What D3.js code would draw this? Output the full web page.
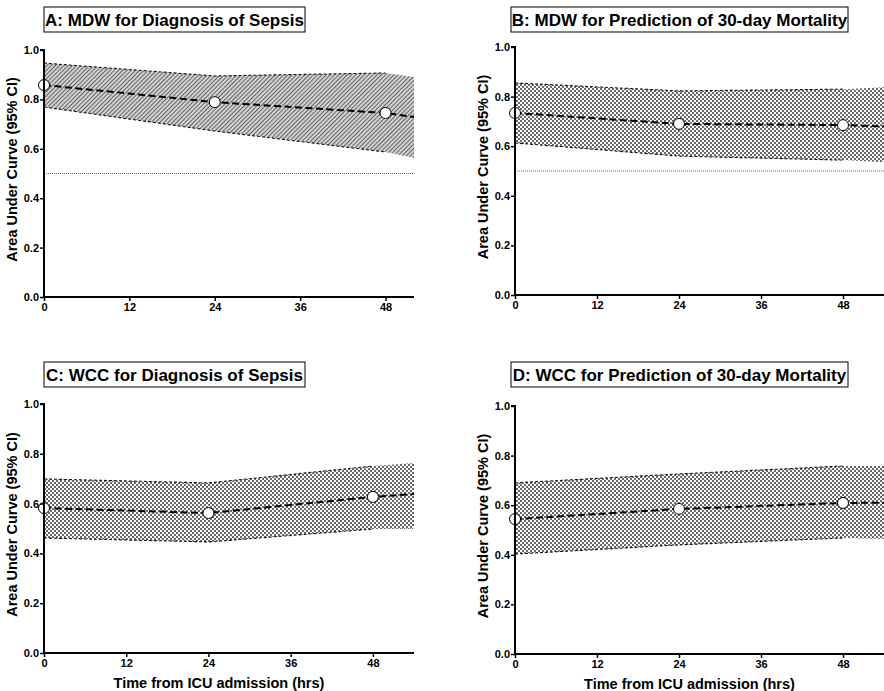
<!DOCTYPE html>
<html>
<head>
<meta charset="utf-8">
<script src="https://cdn.jsdelivr.net/npm/d3@7"></script>
<style>
  body { margin: 0; background: #fff; }
  text { font-family: "Liberation Sans", Arial, sans-serif; font-weight: bold; }
</style>
</head>
<body>
<svg id="chart" width="884" height="691"></svg>
<script>
// hours after ICU admission (72h exists in the data but the axis stops before it)
var times = [0, 24, 48, 72]
var xTicks = [0, 12, 24, 36, 48]
var yTicks = [0, 0.2, 0.4, 0.6, 0.8, 1.0]

var titles = ["A: MDW for Diagnosis of Sepsis", "B: MDW for Prediction of 30-day Mortality",
              "C: WCC for Diagnosis of Sepsis", "D: WCC for Prediction of 30-day Mortality"]

var aucA = [0.858, 0.789, 0.745, 0.649]
var loA  = [0.769, 0.672, 0.587, 0.443]
var hiA  = [0.947, 0.895, 0.907, 0.811]

var aucB = [0.734, 0.690, 0.685, 0.665]
var loB  = [0.613, 0.560, 0.544, 0.508]
var hiB  = [0.855, 0.823, 0.830, 0.862]

var aucC = [0.582, 0.562, 0.627, 0.675]
var loC  = [0.462, 0.446, 0.498, 0.510]
var hiC  = [0.699, 0.683, 0.751, 0.799]

var aucD = [0.544, 0.585, 0.609, 0.613]
var loD  = [0.403, 0.440, 0.468, 0.452]
var hiD  = [0.690, 0.726, 0.758, 0.758]

var refLine = 0.5

var svg = d3.select("#chart")
var defs = svg.append("defs")

// diagonal hatch for panel A
var hatch = defs.append("pattern")
    .attr("id", "hatch")
    .attr("patternUnits", "userSpaceOnUse")
    .attr("width", 3).attr("height", 3)
    .attr("patternTransform", "rotate(-45)")
hatch.append("rect").attr("width", 3).attr("height", 3).attr("fill", "#fff")
hatch.append("line").attr("x1", 0).attr("y1", 1.5).attr("x2", 3).attr("y2", 1.5)
    .attr("stroke", "#666").attr("stroke-width", 1.6)

// fine checkerboard for B, C, D
var check = defs.append("pattern")
    .attr("id", "check")
    .attr("patternUnits", "userSpaceOnUse")
    .attr("width", 4).attr("height", 4)
check.append("rect").attr("width", 4).attr("height", 4).attr("fill", "#fafafa")
check.append("rect").attr("width", 2).attr("height", 2).attr("fill", "#6a6a6a")
check.append("rect").attr("x", 2).attr("y", 2).attr("width", 2).attr("height", 2).attr("fill", "#6a6a6a")

var panels = [
  {auc: aucA, lo: loA, hi: hiA, fill: "hatch", left: 44, right: 414, top: 50, bottom: 297, xMax: 52, box: [44, 7, 261, 25], xlab: false},
  {auc: aucB, lo: loB, hi: hiB, fill: "check", left: 515, right: 884, top: 47, bottom: 295, xMax: 54, box: [511, 7, 337, 25], xlab: false},
  {auc: aucC, lo: loC, hi: hiC, fill: "check", left: 44, right: 414, top: 404, bottom: 653, xMax: 54, box: [44, 362, 261, 25], xlab: true},
  {auc: aucD, lo: loD, hi: hiD, fill: "check", left: 515, right: 884, top: 406, bottom: 654, xMax: 54, box: [511, 362, 337, 25], xlab: true}
]

panels.forEach(function(p, i) {
  var x = d3.scaleLinear().domain([0, p.xMax]).range([p.left, p.right])
  var y = d3.scaleLinear().domain([0, 1]).range([p.bottom, p.top])
  var g = svg.append("g")

  var clipId = "clip" + i
  defs.append("clipPath").attr("id", clipId)
    .append("rect").attr("x", p.left).attr("y", p.top - 10)
    .attr("width", p.right - p.left).attr("height", p.bottom - p.top + 10)

  var rows = times.map(function(t, k) { return {t: t, auc: p.auc[k], lo: p.lo[k], hi: p.hi[k]} })
  var observed = rows.filter(function(d) { return d.t <= 48 })

  var plot = g.append("g").attr("clip-path", "url(#" + clipId + ")")

  // chance line
  plot.append("line")
    .attr("x1", x(0)).attr("x2", x(p.xMax))
    .attr("y1", y(refLine)).attr("y2", y(refLine))
    .attr("stroke", "#666").attr("stroke-width", 1)
    .attr("stroke-dasharray", "1,1")

  var area = d3.area()
    .x(function(d) { return x(d.t) })
    .y0(function(d) { return y(d.lo) })
    .y1(function(d) { return y(d.hi) })

  plot.append("path")
    .attr("d", area(rows))
    .attr("fill", "url(#" + p.fill + ")")
    .attr("stroke", "none")

  var ciLine = function(key) {
    return d3.line().x(function(d) { return x(d.t) }).y(function(d) { return y(d[key]) })
  }
  plot.append("path").attr("d", ciLine("hi")(observed))
    .attr("fill", "none").attr("stroke", "#111").attr("stroke-width", 1.1).attr("stroke-dasharray", "3,2")
  plot.append("path").attr("d", ciLine("lo")(observed))
    .attr("fill", "none").attr("stroke", "#111").attr("stroke-width", 1.1).attr("stroke-dasharray", "3,2")

  plot.append("path").attr("d", ciLine("auc")(rows))
    .attr("fill", "none").attr("stroke", "#000").attr("stroke-width", 2).attr("stroke-dasharray", "7,3.5")

  g.selectAll(".pt").data(observed).enter().append("circle")
    .attr("cx", function(d) { return x(d.t) })
    .attr("cy", function(d) { return y(d.auc) })
    .attr("r", 5.5)
    .attr("fill", "#fff").attr("stroke", "#000").attr("stroke-width", 1)

  // axes
  var yAxis = g.append("g").attr("transform", "translate(" + p.left + ",0)")
    .call(d3.axisLeft(y).tickValues(yTicks).tickFormat(d3.format(".1f")).tickSize(4).tickPadding(1))
  var xAxis = g.append("g").attr("transform", "translate(0," + p.bottom + ")")
    .call(d3.axisBottom(x).tickValues(xTicks).tickSize(4).tickPadding(2))
  ;[yAxis, xAxis].forEach(function(a) {
    a.select(".domain").attr("stroke", "#000").attr("stroke-width", 2)
    a.selectAll(".tick line").attr("stroke", "#000").attr("stroke-width", 1.5)
    a.selectAll("text").attr("font-size", 11).attr("font-weight", "bold").attr("fill", "#000")
      .attr("font-family", "Liberation Sans, Arial, sans-serif")
  })
  yAxis.select(".domain").attr("d", "M0," + (p.bottom + 1) + "V" + p.top + "H-4")
  xAxis.select(".domain").attr("d", "M" + (p.left - 1) + ",0H" + p.right)

  // y label
  g.append("text")
    .attr("transform", "translate(" + (p.left - 27) + "," + ((p.top + p.bottom) / 2 - 4) + ") rotate(-90)")
    .attr("text-anchor", "middle")
    .attr("font-size", 14.5)
    .text("Area Under Curve (95% CI)")

  if (p.xlab) {
    g.append("text")
      .attr("x", (p.left + p.right) / 2 - 10).attr("y", p.bottom + 35)
      .attr("text-anchor", "middle")
      .attr("font-size", 14.5)
      .text("Time from ICU admission (hrs)")
  }

  // title box
  g.append("rect")
    .attr("x", p.box[0]).attr("y", p.box[1])
    .attr("width", p.box[2]).attr("height", p.box[3])
    .attr("fill", "#fff").attr("stroke", "#000").attr("stroke-width", 1)
  g.append("text")
    .attr("x", p.box[0] + p.box[2] / 2).attr("y", p.box[1] + 18.5)
    .attr("text-anchor", "middle")
    .attr("font-size", 17)
    .text(titles[i])
})
</script>
</body>
</html>
